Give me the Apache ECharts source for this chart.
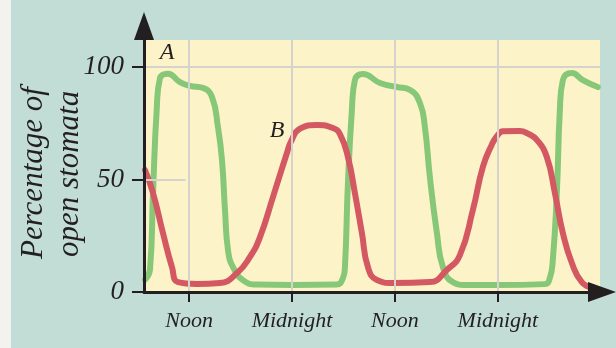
<!DOCTYPE html>
<html>
<head>
<meta charset="utf-8">
<script src="https://cdn.jsdelivr.net/npm/echarts@6/dist/echarts.min.js"></script>
<style>
    html, body { margin: 0; padding: 0; }
    #chart {
        width: 616px;
        height: 348px;
        background: linear-gradient(to right, #f3f2ef 11px, #c2ddd5 11px);
    }
</style>
</head>
<body>
<div id="chart"></div>
<script>
// x in hours of the day (12 = noon, 24 = midnight, 36 = noon, 48 = midnight)
var tickHours = [12, 24, 36, 48];
var tickLabels = ['Noon', 'Midnight', 'Noon', 'Midnight'];
var yTicks = [0, 50, 100];

// curve A (green)
var hoursA = [6.87, 7.45, 7.80, 8.23, 8.61, 9.55, 10.94, 12.11, 13.62, 14.67, 15.37, 15.84, 16.19, 16.54, 17.12, 18.28, 19.92, 24, 29.2,
    29.94, 30.17, 30.52, 30.98, 31.33, 32.27, 34.25, 36.23, 37.74, 38.91, 39.49, 40.07, 40.89, 41.59, 42.75, 44.38, 48, 53.47,
    54.05, 54.40, 54.87, 55.22, 55.57, 56.62, 57.90, 59.65];
var percentA = [5.5, 10, 44, 81, 95, 97, 93.3, 91.6, 90.7, 86.7, 73.3, 58.7, 36.4, 18.7, 11.1, 5.3, 3.3, 3.1, 3.3,
    6.2, 11, 48.4, 80.9, 94.2, 96.9, 92.9, 91.1, 89.8, 84, 73.3, 51.1, 26.2, 11.1, 4.4, 3.1, 3.1, 3.5,
    6.2, 14.2, 44, 80.9, 94.2, 97.3, 94.2, 91.1];

// curve B (red)
var hoursB = [6.87, 7.80, 8.96, 10.01, 10.71, 12.93, 15.60, 17.59, 19.10, 20.27, 21.78, 23.41, 23.88, 24.93, 26.91, 28.77, 29.59,
    30.52, 31.33, 32.15, 32.85, 33.90, 35.76, 40.07, 42.05, 43.57, 45.08, 46.25, 47.30, 47.88, 48.58, 50.56, 51.5, 52.54, 53.70,
    54.64, 55.57, 56.62, 57.78, 59.06];
var percentB = [54.2, 44, 26.2, 11.1, 4.4, 3.6, 4, 8.4, 15.6, 24.4, 42.2, 61.8, 66.8, 72.6, 74.2, 72.9, 70.2,
    60, 44, 26.2, 11.1, 5.3, 4, 4.4, 9.8, 16.4, 36.4, 55.6, 65.6, 69.2, 71.4, 71.6, 70.4, 67.6, 60,
    44, 26.2, 12.9, 4.4, 1.8];

function pairs(xs, ys) {
    return xs.map(function (x, i) { return [x, ys[i]]; });
}

var ink = '#231f20';
var serif = 'Liberation Serif';

var chart = echarts.init(document.getElementById('chart'));
var option = {
    animation: false,
    backgroundColor: 'transparent',
    grid: {
        left: 144,
        right: 16,
        top: 40,
        bottom: 56,
        show: true,
        backgroundColor: '#fdf3c9',
        borderWidth: 0
    },
    xAxis: {
        type: 'value',
        min: 6.75,
        max: 59.9,
        z: 5,
        axisLine: {
            lineStyle: { color: ink, width: 3 },
            symbol: ['none', 'triangle'],
            symbolSize: [20, 28],
            symbolOffset: [0, 2]
        },
        axisTick: {
            show: true,
            customValues: tickHours,
            length: 10,
            lineStyle: { color: ink, width: 2 }
        },
        axisLabel: {
            customValues: tickHours,
            margin: 18,
            formatter: function (v) {
                return tickLabels[tickHours.indexOf(v)];
            },
            color: ink,
            fontFamily: serif,
            fontStyle: 'italic',
            fontSize: 22
        },
        splitLine: { show: false }
    },
    yAxis: {
        type: 'value',
        min: 0,
        max: 112,
        z: 5,
        axisLine: {
            show: true,
            lineStyle: { color: ink, width: 3 },
            symbol: ['none', 'triangle'],
            symbolSize: [20, 28],
            symbolOffset: [0, 14]
        },
        axisTick: {
            show: true,
            customValues: yTicks,
            length: 12,
            lineStyle: { color: ink, width: 2 }
        },
        axisLabel: {
            customValues: yTicks,
            margin: 20,
            color: ink,
            fontFamily: serif,
            fontStyle: 'italic',
            fontSize: 27
        },
        splitLine: { show: false }
    },
    graphic: [
        {
            type: 'text', x: 34, y: 259, rotation: Math.PI / 2,
            style: { text: 'Percentage of', fill: ink, fontFamily: serif, fontStyle: 'italic', fontSize: 31, align: 'left', verticalAlign: 'middle' }
        },
        {
            type: 'text', x: 70, y: 257, rotation: Math.PI / 2,
            style: { text: 'open stomata', fill: ink, fontFamily: serif, fontStyle: 'italic', fontSize: 31, align: 'left', verticalAlign: 'middle' }
        },
        {
            type: 'text', x: 167, y: 53,
            style: { text: 'A', fill: ink, fontFamily: serif, fontStyle: 'italic', fontSize: 24, align: 'center', verticalAlign: 'middle' }
        },
        {
            type: 'text', x: 277, y: 131,
            style: { text: 'B', fill: ink, fontFamily: serif, fontStyle: 'italic', fontSize: 24, align: 'center', verticalAlign: 'middle' }
        }
    ],
    series: [
        {
            // grid lines
            type: 'line',
            data: [],
            z: 1,
            markLine: {
                silent: true,
                symbol: ['none', 'none'],
                label: { show: false },
                lineStyle: { type: 'solid', color: '#d5d3cb', width: 2 },
                data: [
                    { xAxis: 12 }, { xAxis: 24 }, { xAxis: 36 }, { xAxis: 48 },
                    { yAxis: 100 },
                    [{ coord: [6.75, 50] }, { coord: [11.6, 50] }]
                ]
            }
        },
        {
            name: 'A',
            type: 'line',
            data: pairs(hoursA, percentA),
            showSymbol: false,
            smooth: 0.5,
            z: 2,
            lineStyle: { color: '#86c878', width: 6, cap: 'round', join: 'round' }
        },
        {
            name: 'B',
            type: 'line',
            data: pairs(hoursB, percentB),
            showSymbol: false,
            smooth: 0.5,
            z: 3,
            lineStyle: { color: '#d35862', width: 6, cap: 'round', join: 'round' }
        }
    ]
};
chart.setOption(option);
</script>
</body>
</html>
